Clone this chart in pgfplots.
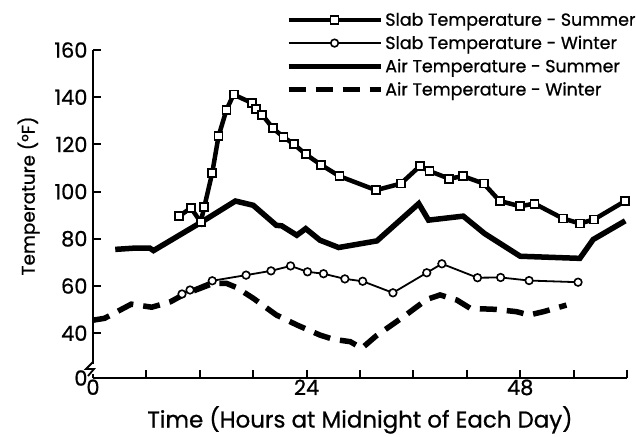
\documentclass[border=0pt]{standalone}
\usepackage{fontspec}
\setmainfont{Poppins}[UprightFeatures={FakeBold=0.8}]
\usepackage{pgfplots}
\pgfplotsset{compat=1.18}

\pgfplotsset{
  slabsummer/.style={black,line width=4.5bp,mark=square*,mark size=4bp,
    mark options={fill=white,line width=1.8bp,solid}},
  slabwinter/.style={black,line width=1.8bp,mark=*,mark size=3.8bp,
    mark options={fill=white,line width=1.6bp,solid}},
  airsummer/.style={black,line width=5.5bp},
  airwinter/.style={black,line width=5.5bp,dash pattern=on 17bp off 10bp},
}

\begin{document}
\begin{tikzpicture}
\begin{axis}[name=ax,scale only axis,width=534bp,height=328bp,
  xmin=0,xmax=60,ymin=21,ymax=160,clip=false,
  axis lines=left,axis line style={-,line width=2bp},
  tick style={line width=2bp,black},major tick length=8bp,tick align=inside,
  xtick={0,6,...,60},xticklabels={0,,,,24,,,,48,,},
  ytick={40,60,...,160},
  extra y ticks={21},extra y tick labels={0},extra y tick style={major tick length=0pt},
  tick label style={font=\fontsize{21}{24}\selectfont},
  yticklabel style={xshift=-2bp},
  xticklabel style={yshift=2bp},
  /pgf/number format/assume math mode=true,
  xlabel={Time (Hours at Midnight of Each Day)},
  ylabel={Temperature (°F)},
  xlabel style={font=\fontsize{23}{26}\selectfont,yshift=-4bp},
  ylabel style={font=\fontsize{18.5}{22}\selectfont,xshift=18bp,yshift=8bp},
  legend cell align=left,
  legend style={at={(1.02,1.12)},anchor=north east,draw=none,fill=none,
    font=\fontsize{17.5}{20}\selectfont,row sep=4.5bp,inner sep=0pt},
  legend image code/.code={\draw[mark repeat=2,mark phase=2,#1]
    plot coordinates {(0bp,0bp) (46bp,0bp) (92bp,0bp)};},
]
\addplot[slabsummer] coordinates {(9.7,89.6) (11.0,93.1) (12.1,87.1) (12.5,93.4)
  (13.4,108) (14.1,123.4) (15.0,134.7) (15.8,141.1) (17.9,137.5) (18.3,135.1)
  (19.0,132.6) (20.2,126.9) (21.4,123.1) (22.6,120) (23.9,115.8) (25.6,111.4)
  (27.7,106.5) (31.8,100.6) (34.6,103.4) (36.7,110.7) (37.8,108.7) (40.0,105.5)
  (41.6,106.5) (43.9,103.4) (45.7,96.0) (48.0,93.8) (49.6,94.9) (52.8,88.6)
  (54.7,86.5) (56.3,88.2) (59.8,96.0)};
\addplot[slabwinter] coordinates {(10.0,56.6) (10.9,58.3) (13.4,62.2) (17.2,64.6)
  (20.0,66.4) (22.2,68.5) (24.1,66) (25.9,65.2) (28.3,63) (30.3,62) (33.7,57.1)
  (37.5,65.6) (39.2,69.4) (43.2,63.5) (45.8,63.6) (49.0,62.3) (54.5,61.6)};
\addplot[airsummer] coordinates {(2.5,75.5) (4.5,76) (6.4,76) (6.8,75) (12.2,87.1)
  (16,96) (18,94.2) (20.6,85.7) (21.2,85.5) (22.9,81.5) (23.9,84.3) (25.5,79.4)
  (27.6,76.3) (31.9,79.1) (36.6,94.9) (37.7,87.9) (41.6,89.6) (44.0,82.2)
  (48.0,72.6) (54.7,71.7) (56.2,79.7) (59.8,87.6)};
\addplot[airwinter] coordinates {(0,45.5) (1.3,46.3) (3.4,50.5) (4.3,52.3)
  (6.6,51) (8.7,53.3) (10.1,56.2) (13.5,61.1) (15.0,61.1) (16.1,59.4) (18,54.8)
  (20.6,47.7) (22.9,43.5) (25.5,39.2) (27.0,37.4) (28.9,36.4) (30.2,33.6)
  (31.8,38.8) (34.9,47) (37.5,54.3) (39,56.2) (40.9,54.0) (42.4,50.5) (45.2,50.1)
  (47.6,49.1) (49.0,47.7) (50.6,49.1) (53.2,51.9)};
\legend{Slab Temperature - Summer,Slab Temperature - Winter,
  Air Temperature - Summer,Air Temperature - Winter}
\end{axis}
% axis break mark
\fill[white] ([xshift=-3bp,yshift=4bp]ax.south west) rectangle ([xshift=3bp,yshift=14bp]ax.south west);
\draw[line width=1.8bp,line join=miter] ([yshift=16bp]ax.south west) -- ++(-7bp,-7bp) -- ++(8bp,0bp) -- ++(-6bp,-7bp);
\pgfresetboundingbox
\path ([shift={(-93bp,-58bp)}]ax.south west) rectangle ([shift={(9bp,50bp)}]ax.north east);
\end{tikzpicture}
\end{document}
